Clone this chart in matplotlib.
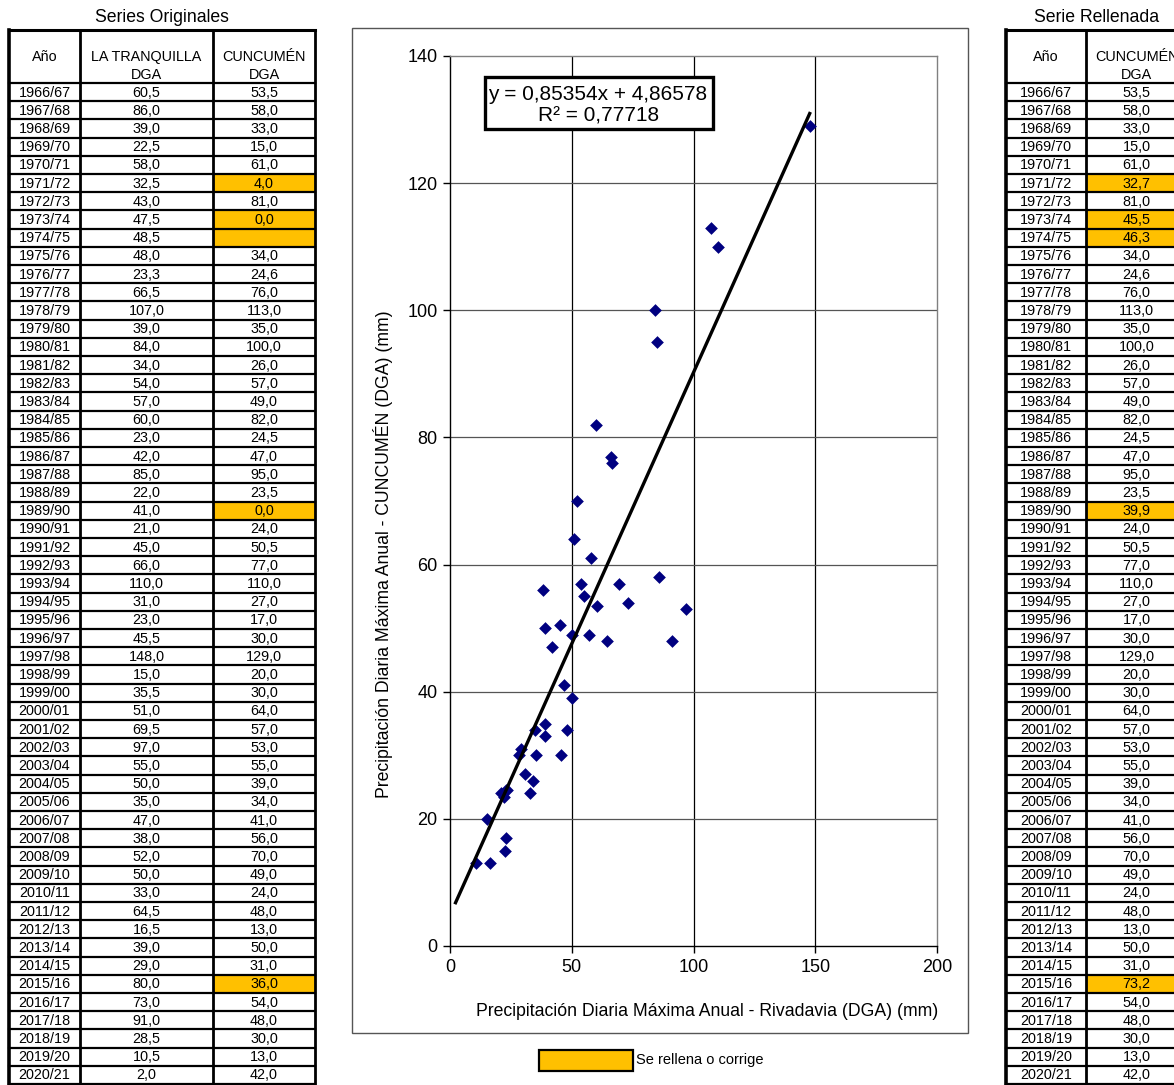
import numpy as np
import matplotlib.pyplot as plt
from matplotlib.patches import Rectangle

plt.rcParams['font.family'] = ['Liberation Sans', 'DejaVu Sans']

# --- data -------------------------------------------------------------
years = [f"{y}/{(y + 1) % 100:02d}" for y in range(1966, 2021)]

tranquilla = [60.5, 86.0, 39.0, 22.5, 58.0, 32.5, 43.0, 47.5, 48.5, 48.0,
              23.3, 66.5, 107.0, 39.0, 84.0, 34.0, 54.0, 57.0, 60.0, 23.0,
              42.0, 85.0, 22.0, 41.0, 21.0, 45.0, 66.0, 110.0, 31.0, 23.0,
              45.5, 148.0, 15.0, 35.5, 51.0, 69.5, 97.0, 55.0, 50.0, 35.0,
              47.0, 38.0, 52.0, 50.0, 33.0, 64.5, 16.5, 39.0, 29.0, 80.0,
              73.0, 91.0, 28.5, 10.5, 2.0]

cuncumen = [53.5, 58.0, 33.0, 15.0, 61.0, 4.0, 81.0, 0.0, None, 34.0,
            24.6, 76.0, 113.0, 35.0, 100.0, 26.0, 57.0, 49.0, 82.0, 24.5,
            47.0, 95.0, 23.5, 0.0, 24.0, 50.5, 77.0, 110.0, 27.0, 17.0,
            30.0, 129.0, 20.0, 30.0, 64.0, 57.0, 53.0, 55.0, 39.0, 34.0,
            41.0, 56.0, 70.0, 49.0, 24.0, 48.0, 13.0, 50.0, 31.0, 36.0,
            54.0, 48.0, 30.0, 13.0, 42.0]

# values replaced in the filled series
flagged = {"1971/72": 32.7, "1973/74": 45.5, "1974/75": 46.3,
           "1989/90": 39.9, "2015/16": 73.2}
# years not shown in the scatter
not_in_fit = ["1972/73", "2020/21"]

slope, intercept, r2 = 0.85354, 4.86578, 0.77718

cuncumen_filled = [flagged.get(yr, v) for yr, v in zip(years, cuncumen)]

ORANGE = "#FFC000"


def fmt(v):
    return "" if v is None else f"{v:.1f}".replace(".", ",")


# --- figure -----------------------------------------------------------
W, H = 1174, 1085
fig = plt.figure(figsize=(W / 100, H / 100), dpi=100)

# scatter axes (pixel box 450..937 x 56..946)
ax = fig.add_axes([450 / W, 1 - 946 / H, (937 - 450) / W, (946 - 56) / H], zorder=2)
use = [i for i, yr in enumerate(years) if yr not in flagged and yr not in not_in_fit]
xs = np.array([tranquilla[i] for i in use])
ys = np.array([cuncumen[i] for i in use])
ax.scatter(xs, ys, marker="D", s=42, color="#000080", linewidths=0, zorder=3)

xl = np.array([min(tranquilla), max(tranquilla)])
ax.plot(xl, slope * xl + intercept, color="black", lw=2.4, solid_capstyle="butt", zorder=4)

ax.set_xlim(0, 200)
ax.set_ylim(0, 140)
ax.set_xticks(range(0, 201, 50))
ax.set_yticks(range(0, 141, 20))
for v in range(50, 200, 50):
    ax.axvline(v, color="black", lw=0.9, zorder=1)
for v in range(20, 140, 20):
    ax.axhline(v, color="#555555", lw=0.9, zorder=1)
ax.spines["left"].set_color("black")
ax.spines["bottom"].set_color("black")
ax.spines["top"].set_color("#808080")
ax.spines["right"].set_color("#808080")
for s in ax.spines.values():
    s.set_linewidth(1.0)
ax.tick_params(direction="out", length=5, width=1, labelsize=13, pad=4)

# overlay in pixel coordinates for tables and annotations
ov = fig.add_axes([0, 0, 1, 1], zorder=3)
ov.set_xlim(0, W)
ov.set_ylim(H, 0)
ov.axis("off")
ov.patch.set_alpha(0)

# chart frame
ov.add_patch(Rectangle((352, 28), 616, 1005, fill=False, edgecolor="#555555", lw=1.0))

ov.text(383, 554, "Precipitación Diaria Máxima Anual - CUNCUMÉN (DGA) (mm)",
        rotation=90, ha="center", va="center", fontsize=12.7)
ov.text(707, 1012, "Precipitación Diaria Máxima Anual - Rivadavia (DGA) (mm)",
        ha="center", va="center", fontsize=12.7)

# equation box
ov.add_patch(Rectangle((485, 77), 228, 52, facecolor="white", edgecolor="black", lw=2.4))
ov.text(598, 95, f"y = {slope:.5f}x + {intercept:.5f}".replace(".", ","),
        ha="center", va="center", fontsize=15)
ov.text(599, 116, f"R² = {r2:.5f}".replace(".", ","), ha="center", va="center", fontsize=15)

# legend
ov.add_patch(Rectangle((539, 1050), 94, 21, facecolor=ORANGE, edgecolor="black", lw=1.6))
ov.text(636, 1060, "Se rellena o corrige", ha="left", va="center", fontsize=10.5)

# --- tables -----------------------------------------------------------
HEAD_TOP, ROW0, ROW_H = 30, 83, 18.2
FS = 10.4


def draw_table(cols, headers, columns, fill_col, title):
    n = len(years)
    bottom = ROW0 + n * ROW_H
    # orange cells
    for i, yr in enumerate(years):
        if yr in flagged:
            ov.add_patch(Rectangle((cols[fill_col], ROW0 + i * ROW_H),
                                   cols[fill_col + 1] - cols[fill_col], ROW_H,
                                   facecolor=ORANGE, edgecolor="none"))
    # grid
    ov.plot([cols[0], cols[-1]], [HEAD_TOP, HEAD_TOP], color="black", lw=2.2)
    for i in range(n + 1):
        y = ROW0 + i * ROW_H
        ov.plot([cols[0], cols[-1]], [y, y], color="black", lw=1.6)
    for j, x in enumerate(cols):
        ov.plot([x, x], [HEAD_TOP, bottom], color="black", lw=2.6 if j == 0 else 2.0)
    # header
    for j, hd in enumerate(headers):
        cx = (cols[j] + cols[j + 1]) / 2
        lines = hd.split("\n")
        ov.text(cx, 57, lines[0], ha="center", va="center", fontsize=FS)
        if len(lines) > 1:
            ov.text(cx, 75, lines[1], ha="center", va="center", fontsize=FS)
    # body
    for j, col in enumerate(columns):
        cx = (cols[j] + cols[j + 1]) / 2
        for i, v in enumerate(col):
            ov.text(cx, ROW0 + (i + 0.5) * ROW_H + 0.5, v, ha="center", va="center", fontsize=FS)
    ov.text((cols[0] + cols[-1]) / 2, 18, title, ha="center", va="center", fontsize=12.7)


draw_table([9, 80, 213, 315],
           ["Año", "LA TRANQUILLA\nDGA", "CUNCUMÉN\nDGA"],
           [years, [fmt(v) for v in tranquilla], [fmt(v) for v in cuncumen]],
           2, "Series Originales")

draw_table([1006, 1086, 1187],
           ["Año", "CUNCUMÉN\nDGA"],
           [years, [fmt(v) for v in cuncumen_filled]],
           1, "Serie Rellenada")

fig.savefig("out.png", dpi=100)
